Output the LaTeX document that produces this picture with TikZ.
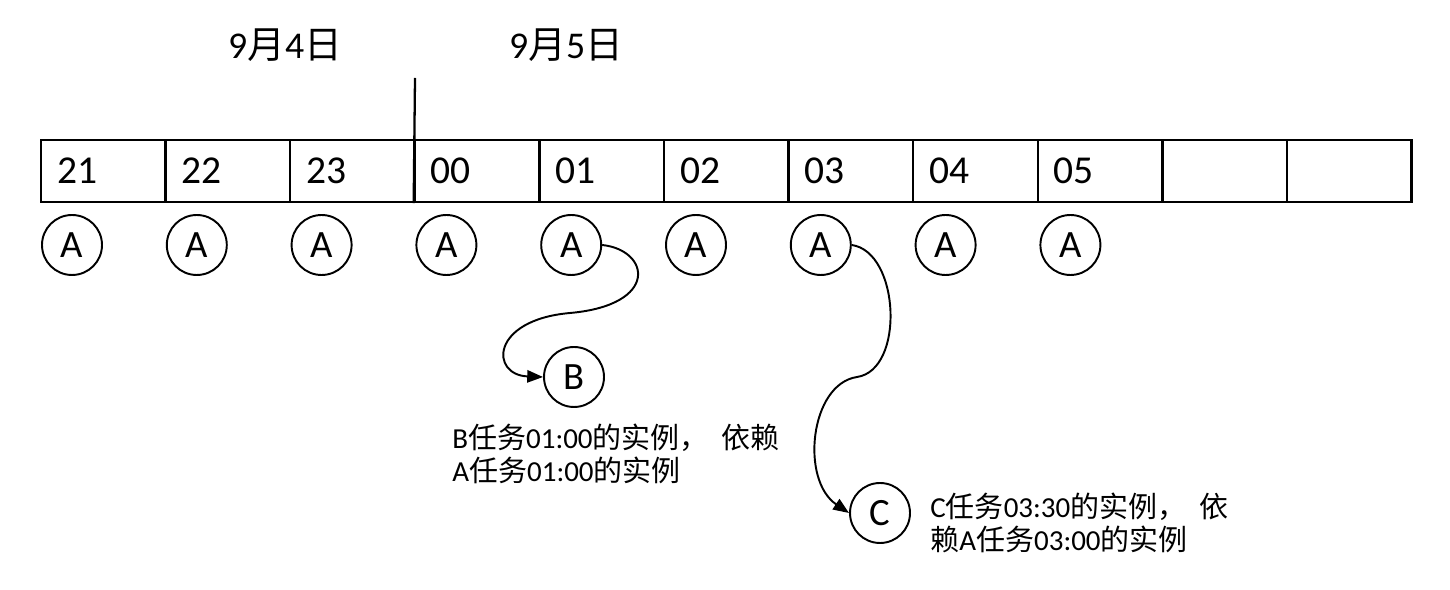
\documentclass[tikz,border=0pt]{standalone}
\usepackage{fontspec}
\setmainfont{Carlito}
\newfontfamily\cjk{Noto Sans CJK SC}
\usetikzlibrary{arrows.meta}
\begin{document}
\begin{tikzpicture}[x=0.02cm,y=-0.02cm,
  cell/.style={draw, line width=1.3pt, minimum width=2.492cm, minimum height=1.24cm, inner sep=0pt, text width=1.85cm, align=left, font=\fontsize{22.5}{25}\selectfont},
  circ/.style={draw, circle, line width=1.1pt, minimum size=1.2cm, inner sep=0pt, font=\fontsize{22}{24}\selectfont},
  big/.style={inner sep=0pt, font=\fontsize{21.5}{24}\selectfont},
  note/.style={inner sep=0pt, align=left, font=\fontsize{16.5}{18.7}\selectfont},
  dep/.style={line width=1.1pt, -{Triangle[length=9pt,width=7pt]}}]
\useasboundingbox (0,0) rectangle (1450,590);
% dates
\node[big] (d4) at (285,45) {9{\cjk 月}4{\cjk 日}};
\node[big] (d5) at (566,45) {9{\cjk 月}5{\cjk 日}};
% cells
\foreach \i/\t in {1/21,2/22,3/23,4/00,5/01,6/02,7/03,8/04,9/05,10/,11/}{
  \node[cell] (c\i) at ({103.3+124.6*(\i-1)},171) {\t};
}
% day divider
\coordinate (divtop) at (415,78);
\draw[line width=1.3pt] (divtop) -- (c4.south west);
% A circles
\foreach \i in {1,...,9}{
  \node[circ] (a\i) at ({72+124.8*(\i-1)},245) {A};
}
\node[circ] (b) at (574,377) {B};
\node[circ] (c) at (880,513) {C};
% connectors
\coordinate (wb) at (570,313);
\draw[dep] (a5.east) .. controls (650,250) and (660,305) .. (wb) .. controls (490,320) and (490,375) .. (b.west);
\coordinate (wc) at (857,377);
\draw[dep] (a7.east) .. controls (900,252) and (905,370) .. (wc) .. controls (810,384) and (800,480) .. (c.west);
% notes
\node[note, anchor=west] (nb) at (452,454) {B{\cjk 任务}01:00{\cjk 的实例，}\hspace{0.45em}{\cjk 依赖}\\A{\cjk 任务}01:00{\cjk 的实例}};
\node[note, anchor=west] (nc) at (930,523) {C{\cjk 任务}03:30{\cjk 的实例，}\hspace{0.45em}{\cjk 依}\\{\cjk 赖}A{\cjk 任务}03:00{\cjk 的实例}};
\end{tikzpicture}
\end{document}
